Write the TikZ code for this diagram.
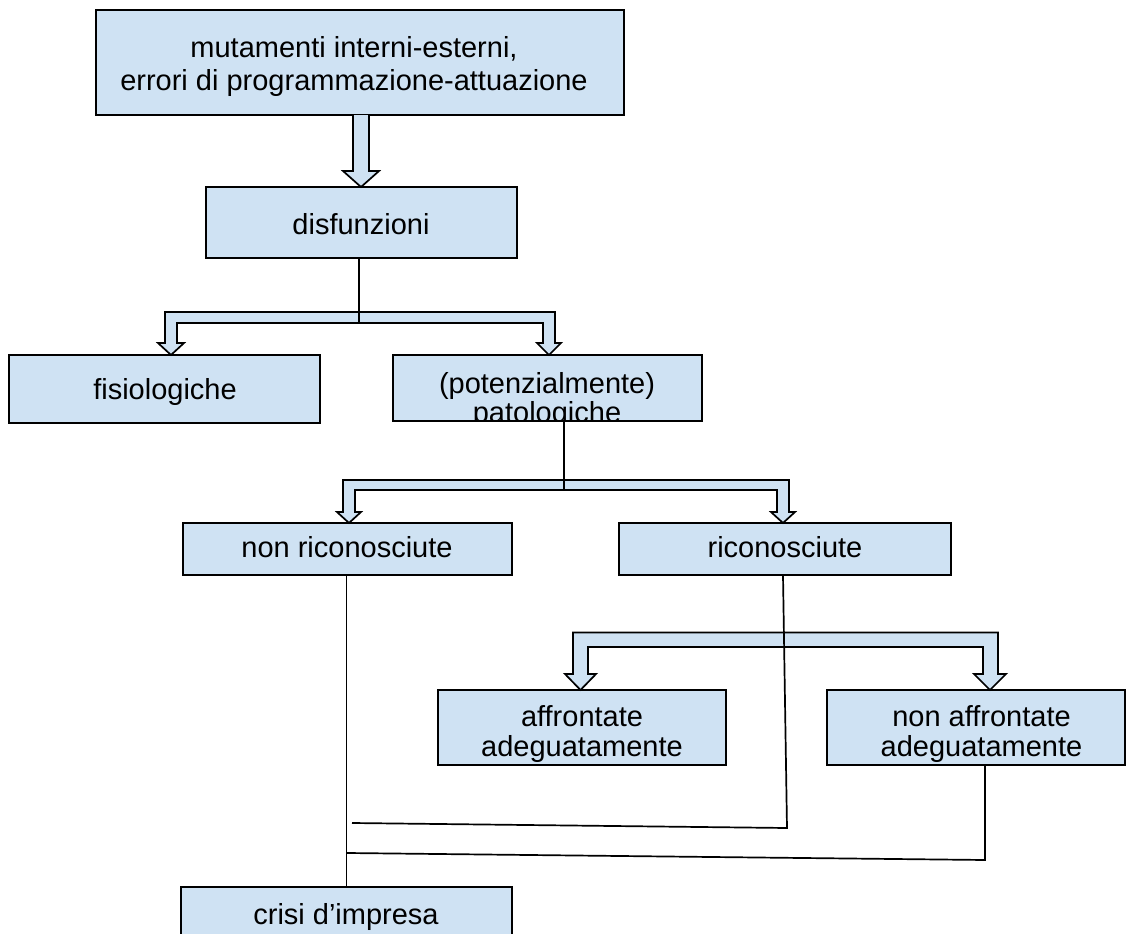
\documentclass[tikz,border=0pt]{standalone}
\usepackage{fontspec}
\setmainfont{Liberation Sans}
\definecolor{boxblue}{RGB}{207,226,243}
\newcommand{\twolines}[2]{\vtop{\halign{\hfil##\hfil\cr #1\cr #2\cr}}}
\begin{document}
\begin{tikzpicture}[x=1pt,y=-1pt,
  box/.style={draw=black, line width=1.7pt, fill=boxblue, inner sep=0pt, outer sep=0pt},
  lbl/.style={inner sep=0pt, anchor=base, font=\fontsize{29}{33}\selectfont},
  lbltight/.style={lbl, font=\fontsize{29}{29}\selectfont},
  conn/.style={draw=black, line width=1.7pt},
  fatarrow/.style={draw=black, line width=1.7pt, fill=boxblue, line join=miter}]
\useasboundingbox (0,0) rectangle (1128,934);

% boxes
\node[box, minimum width=528pt, minimum height=105pt] (top) at (360,62.5) {};
\node[lbl] (toptxt) at (354,57.5) {\twolines{mutamenti interni-esterni,}{errori di programmazione-attuazione}};
\node[box, minimum width=311pt, minimum height=71pt] (disf) at (361.5,222.5) {};
\node[lbl] (disftxt) at (361,234) {disfunzioni};
\node[box, minimum width=311pt, minimum height=68pt] (fisio) at (164.5,389) {};
\node[lbl] (fisiotxt) at (165,399) {fisiologiche};
\node[box, draw=none, minimum width=309pt, minimum height=66pt] (pat) at (547.5,388) {};
\begin{scope}
  \clip (pat.south west) rectangle (pat.north east);
  \node[lbltight] (pattxt) at (547,393.5) {\twolines{(potenzialmente)}{patologiche}};
\end{scope}
\draw[line width=1.7pt] (pat.south west) rectangle (pat.north east);
\node[box, minimum width=329pt, minimum height=52pt] (nonric) at (347.5,549) {};
\node[lbl] (nonrictxt) at (347,557) {non riconosciute};
\node[box, minimum width=332pt, minimum height=52pt] (ric) at (785,549) {};
\node[lbl] (rictxt) at (785,557) {riconosciute};
\node[box, minimum width=288pt, minimum height=75pt] (aff) at (582,727.5) {};
\node[lbl, font=\fontsize{29}{30}\selectfont] (afftxt) at (582,726) {\twolines{affrontate}{adeguatamente}};
\node[box, minimum width=298pt, minimum height=75pt] (nonaff) at (976,727.5) {};
\node[lbl, font=\fontsize{29}{30}\selectfont] (nonafftxt) at (981.5,726) {\twolines{non affrontate}{adeguatamente}};
\node[box, minimum width=331pt, minimum height=60pt] (crisi) at (346.5,917) {};
\node[lbl] (crisitxt) at (346,924) {crisi d’impresa};

% fat arrow top -> disfunzioni
\draw[fatarrow] (353,115) -- (353,171) -- (343,171) -- (361,187) -- (379,171) -- (369,171) -- (369,115);

% branch disfunzioni -> fisiologiche / patologiche
\draw[fatarrow] (165,343) -- (158,343) -- (171,355) -- (184,343) -- (177,343) -- (177,323)
  -- (543,323) -- (543,343) -- (537,343) -- (549,355) -- (561,343) -- (555,343) -- (555,312) -- (165,312) -- cycle;
\coordinate (j1) at (359,323);
\draw[conn] (disf.south -| j1) -- (j1);

% branch patologiche -> non riconosciute / riconosciute
\draw[fatarrow] (343,512) -- (337,512) -- (349,523) -- (361,512) -- (355,512) -- (355,490)
  -- (777,490) -- (777,512) -- (771,512) -- (783,523) -- (795,512) -- (789,512) -- (789,480) -- (343,480) -- cycle;
\coordinate (j2) at (564,490);
\draw[conn] (pat.south -| j2) -- (j2);

% branch riconosciute -> affrontate / non affrontate
\draw[fatarrow] (573,674) -- (565,674) -- (580.5,690) -- (596,674) -- (588,674) -- (588,647)
  -- (983,647) -- (983,674) -- (974,674) -- (990,690) -- (1006,674) -- (998,674) -- (998,632.5) -- (573,632.5) -- cycle;

% lines to crisi
\coordinate (r0) at (783,575);
\coordinate (r1) at (787,828);
\coordinate (r1end) at (352,823);
\coordinate (r2) at (985,860);
\coordinate (r2end) at (347,853);
\draw[conn] (ric.south -| r0) -- (r1) -- (r1end);
\draw[conn] (nonaff.south -| r2) -- (r2) -- (r2end);
\draw[conn] (nonric.south -| crisi.north) -- (crisi.north);
\end{tikzpicture}
\end{document}
